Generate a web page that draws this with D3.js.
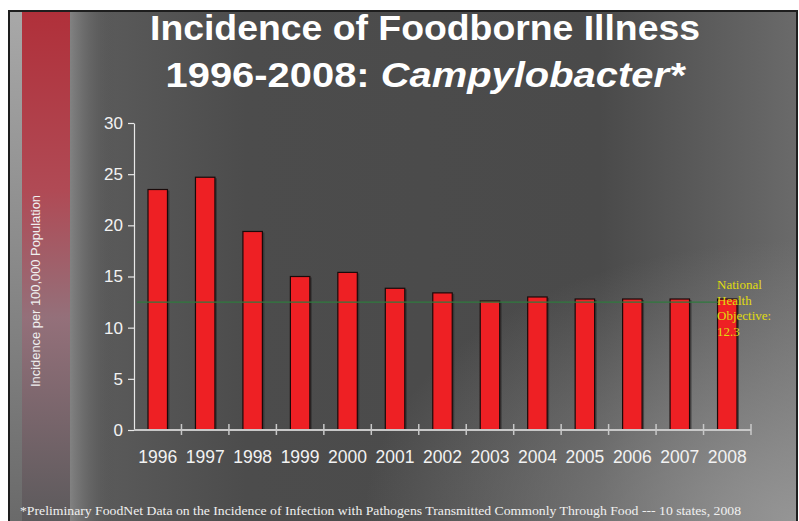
<!DOCTYPE html>
<html><head><meta charset="utf-8">
<script src="https://cdn.jsdelivr.net/npm/d3@7"></script>
<style>html,body{margin:0;padding:0;background:#fff;overflow:hidden}</style>
</head><body>
<svg id="c" width="799" height="521"></svg>
<script>
const years = ["1996","1997","1998","1999","2000","2001","2002","2003","2004","2005","2006","2007","2008"];
const incidence = [23.5,24.7,19.4,15.0,15.4,13.85,13.4,12.6,13.0,12.8,12.8,12.8,12.8];
const yTicks = [0,5,10,15,20,25,30];
const objectiveLine = 12.5;
const objectiveLabel = ["National","Health","Objective:","12.3"];
const titleLine1 = "Incidence of Foodborne Illness";
const titleLine2a = "1996-2008: ";
const titleLine2b = "Campylobacter*";
const yLabel = "Incidence per 100,000 Population";
const footnote = "*Preliminary FoodNet Data on the Incidence of Infection with Pathogens Transmitted Commonly Through Food --- 10 states, 2008";

const svg = d3.select("#c");
const defs = svg.append("defs");

// background
const bg = defs.append("linearGradient").attr("id","bg").attr("x1","0").attr("y1","0").attr("x2","1").attr("y2","0");
bg.append("stop").attr("offset","0").attr("stop-color","#6e6e6e");
bg.append("stop").attr("offset","0.12").attr("stop-color","#5a5a5a");
bg.append("stop").attr("offset","0.3").attr("stop-color","#4c4c4c");
bg.append("stop").attr("offset","0.75").attr("stop-color","#4a4a4a");
bg.append("stop").attr("offset","1").attr("stop-color","#6a6a6a");
const rg = defs.append("radialGradient").attr("id","glow").attr("cx","1").attr("cy","1").attr("r","0.55");
rg.append("stop").attr("offset","0").attr("stop-color","#9a9a9a").attr("stop-opacity","0.9");
rg.append("stop").attr("offset","1").attr("stop-color","#9a9a9a").attr("stop-opacity","0");
const stripe = defs.append("linearGradient").attr("id","stripe").attr("x1","0").attr("y1","0").attr("x2","0").attr("y2","1");
stripe.append("stop").attr("offset","0").attr("stop-color","#b0303a");
stripe.append("stop").attr("offset","0.35").attr("stop-color","#b04a55");
stripe.append("stop").attr("offset","0.6").attr("stop-color","#94707a");
stripe.append("stop").attr("offset","1").attr("stop-color","#5c5a5c");
const lstrip = defs.append("linearGradient").attr("id","lstrip").attr("x1","0").attr("y1","0").attr("x2","0").attr("y2","1");
lstrip.append("stop").attr("offset","0").attr("stop-color","#a8a8a8");
lstrip.append("stop").attr("offset","1").attr("stop-color","#6a6a6a");
const sfade = defs.append("linearGradient").attr("id","sfade").attr("x1","0").attr("y1","0").attr("x2","1").attr("y2","0");
sfade.append("stop").attr("offset","0").attr("stop-color","#8a8a8a").attr("stop-opacity","0.8");
sfade.append("stop").attr("offset","1").attr("stop-color","#4c4c4c").attr("stop-opacity","0");

svg.append("rect").attr("x",8).attr("y",10).attr("width",790).attr("height",511).attr("fill","#1e1e1e");
svg.append("rect").attr("x",10).attr("y",12).attr("width",786).attr("height",509).attr("fill","url(#bg)");
svg.append("rect").attr("x",10).attr("y",12).attr("width",786).attr("height",509).attr("fill","url(#glow)");
svg.append("rect").attr("x",10).attr("y",12).attr("width",13).attr("height",509).attr("fill","url(#lstrip)");
svg.append("rect").attr("x",22).attr("y",12).attr("width",48).attr("height",509).attr("fill","url(#stripe)");
svg.append("rect").attr("x",70).attr("y",12).attr("width",45).attr("height",509).attr("fill","url(#sfade)");

// scales
const x = d3.scaleBand().domain(years).range([134,751]).paddingInner(0.59).paddingOuter(0.295);
const y = d3.scaleLinear().domain([0,30]).range([430,123]);

// bars shadow
svg.append("g").selectAll("rect").data(years).join("rect")
  .attr("x",d=>x(d)+2).attr("y",(d,i)=>y(incidence[i])+1)
  .attr("width",x.bandwidth()).attr("height",(d,i)=>430-y(incidence[i])-1)
  .attr("fill","#2a2a2a").attr("opacity",0.6);
svg.append("g").selectAll("rect").data(years).join("rect")
  .attr("x",d=>x(d)).attr("y",(d,i)=>y(incidence[i]))
  .attr("width",x.bandwidth()).attr("height",(d,i)=>430-y(incidence[i]))
  .attr("fill","#ee2024").attr("stroke","#1a0a0a").attr("stroke-width",1.2);

// objective line
svg.append("line").attr("x1",137).attr("x2",718)
  .attr("y1",y(objectiveLine)).attr("y2",y(objectiveLine))
  .attr("stroke","#2f7a3e").attr("stroke-width",1.3);

// y axis
const ya = svg.append("g").attr("transform","translate(134,0)")
  .call(d3.axisLeft(y).tickValues(yTicks).tickSize(6).tickPadding(5).tickSizeOuter(0));
ya.select(".domain").attr("stroke","#e8e8e8").attr("stroke-width",1.2);
ya.selectAll(".tick line").attr("stroke","#e8e8e8").attr("stroke-width",1.2);
ya.selectAll(".tick text").attr("fill","#f2f2f2").style("font-family","'Liberation Sans',Arial,sans-serif").style("font-size","17px");

// x axis
const xa = svg.append("g").attr("transform","translate(0,430)");
xa.append("line").attr("x1",134).attr("x2",751).attr("y1",0).attr("y2",0).attr("stroke","#c8c8c8").attr("stroke-width",2);
const bounds = years.map(d=>x(d)-x.step()*x.paddingInner()/2).concat([751]);
xa.selectAll("line.t").data(bounds.slice(1)).join("line").attr("class","t")
  .attr("x1",d=>d).attr("x2",d=>d).attr("y1",-6).attr("y2",5).attr("stroke","#c8c8c8").attr("stroke-width",1.5);
xa.selectAll("text").data(years).join("text")
  .attr("x",d=>x(d)+x.bandwidth()/2).attr("y",33).attr("text-anchor","middle")
  .attr("fill","#f2f2f2").style("font-family","'Liberation Sans',Arial,sans-serif").style("font-size","17.5px").text(d=>d);

// annotation
svg.append("g").selectAll("text").data(objectiveLabel).join("text")
  .attr("x",717).attr("y",(d,i)=>289+i*15.5)
  .attr("fill","#e0dc10").style("font-family","'Liberation Serif','Times New Roman',serif").style("font-size","13px").text(d=>d);

// y label
svg.append("text").attr("transform","translate(40,291) rotate(-90)").attr("text-anchor","middle")
  .attr("fill","#f0f0f0").style("font-family","'Liberation Sans',Arial,sans-serif").style("font-size","13px")
  .attr("textLength",192).attr("lengthAdjust","spacingAndGlyphs").text(yLabel);

// title
svg.append("text").attr("x",425).attr("y",40).attr("text-anchor","middle").attr("fill","#fff")
  .style("font-family","'Liberation Sans',Arial,sans-serif").style("font-weight","bold").style("font-size","35px")
  .attr("textLength",550).attr("lengthAdjust","spacingAndGlyphs").text(titleLine1);
const t2 = svg.append("text").attr("x",425).attr("y",87).attr("text-anchor","middle").attr("fill","#fff")
  .style("font-family","'Liberation Sans',Arial,sans-serif").style("font-weight","bold").style("font-size","35px")
  .attr("textLength",519).attr("lengthAdjust","spacingAndGlyphs");
t2.append("tspan").text(titleLine2a);
t2.append("tspan").style("font-style","italic").text(titleLine2b);

// footnote
svg.append("text").attr("x",20).attr("y",515).attr("fill","#f0f0f0")
  .style("font-family","'Liberation Serif','Times New Roman',serif").style("font-size","12.5px")
  .attr("textLength",721).attr("lengthAdjust","spacingAndGlyphs").text(footnote);
</script>
</body></html>
